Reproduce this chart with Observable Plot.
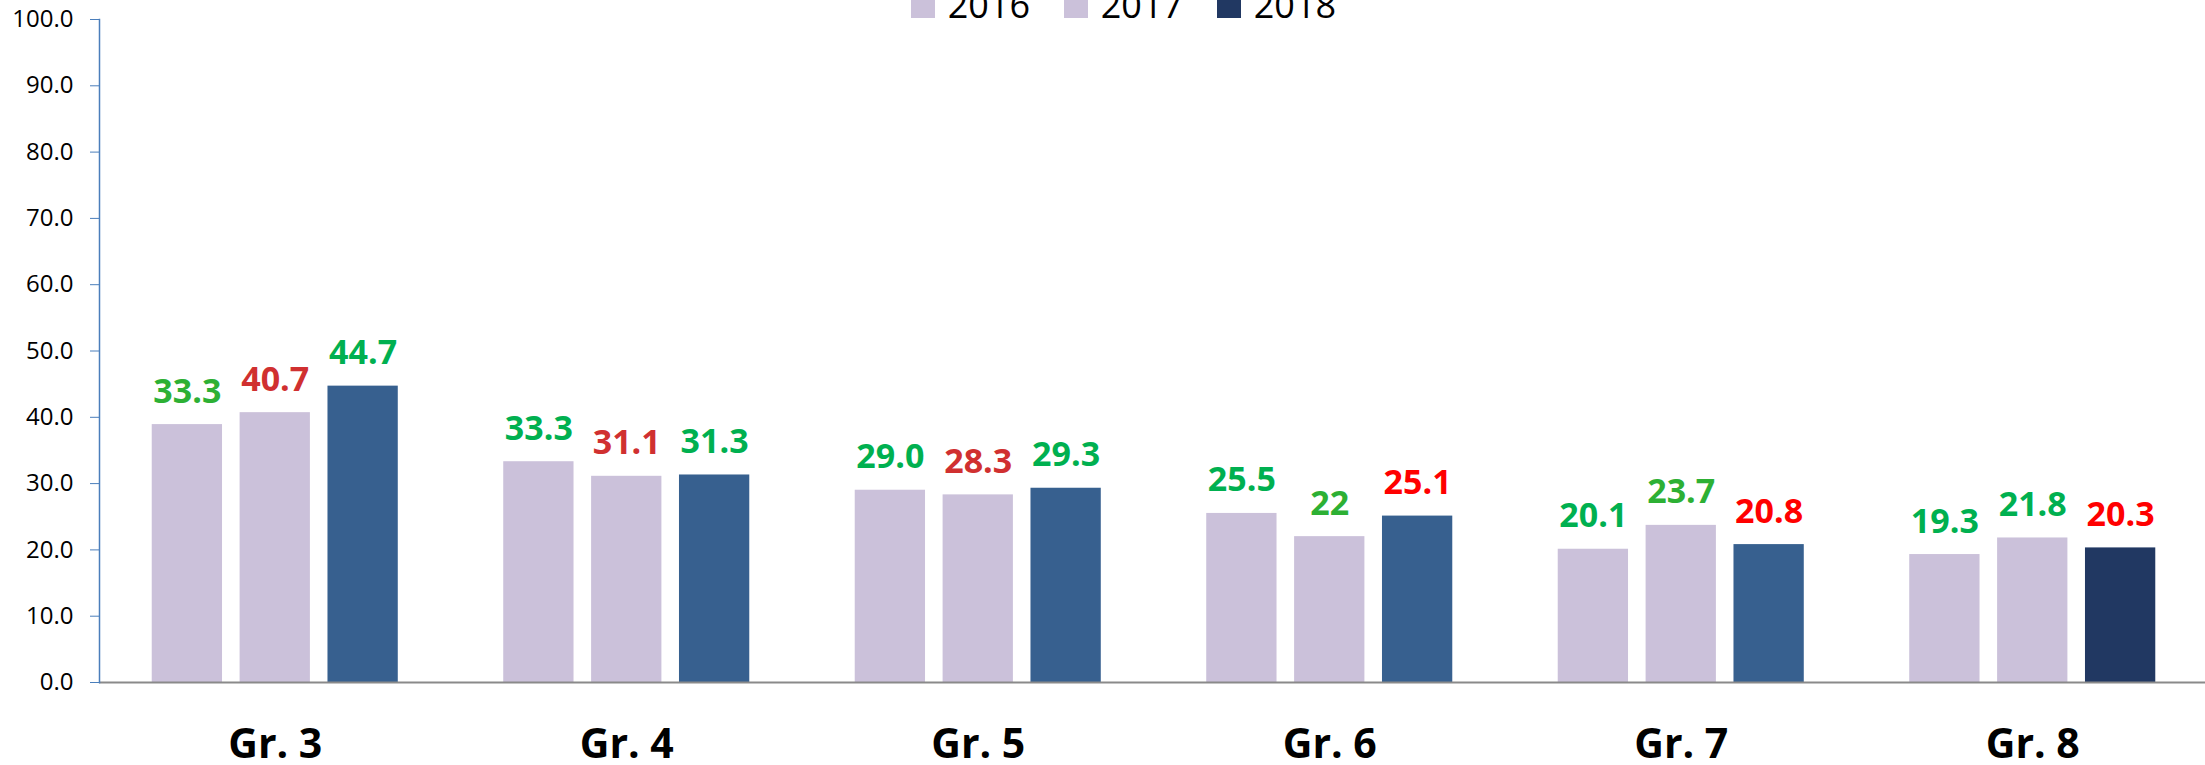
<!DOCTYPE html>
<html>
<head>
<meta charset="utf-8">
<script src="https://cdn.jsdelivr.net/npm/d3@7"></script>
<script src="https://cdn.jsdelivr.net/npm/@observablehq/plot@0.6"></script>
<style>
  html, body { margin: 0; padding: 0; background: #fff; overflow: hidden; }
  #wrap { position: relative; width: 2205px; height: 765px; }
  #legend { position: absolute; left: 911px; top: -13px; font-family: "Open Sans", sans-serif; font-size: 36px; line-height: 36px; white-space: nowrap; color: #000; z-index: 2; }
  #legend .item { display: inline-block; margin-right: 34px; }
  #legend .sw { display: inline-block; width: 24px; height: 24px; margin-right: 12.7px; vertical-align: baseline; }
</style>
</head>
<body>
<div id="wrap"><div id="legend"></div></div>
<script>
const grades = ["Gr. 3", "Gr. 4", "Gr. 5", "Gr. 6", "Gr. 7", "Gr. 8"];
const years = ["2016", "2017", "2018"];
const values2016 = [38.9, 33.3, 29.0, 25.5, 20.1, 19.3];
const values2017 = [40.7, 31.1, 28.3, 22.0, 23.7, 21.8];
const values2018 = [44.7, 31.3, 29.3, 25.1, 20.8, 20.3];
const labels2016 = ["33.3", "33.3", "29.0", "25.5", "20.1", "19.3"];
const labels2017 = ["40.7", "31.1", "28.3", "22", "23.7", "21.8"];
const labels2018 = ["44.7", "31.3", "29.3", "25.1", "20.8", "20.3"];
const tones2016 = ["up2", "up", "up", "up", "up", "up"];
const tones2017 = ["down", "down", "down", "up2", "up2", "up"];
const tones2018 = ["up", "up", "up", "down2", "down2", "down2"];
const yTicks = [0, 10, 20, 30, 40, 50, 60, 70, 80, 90, 100];

const toneColor = {up: "#00B050", up2: "#2DB034", down: "#D03030", down2: "#FF0000"};
const lavender = "#CBC1DA", steel = "#37608F", navy = "#213862";

const valuesByYear = [values2016, values2017, values2018];
const labelsByYear = [labels2016, labels2017, labels2018];
const tonesByYear = [tones2016, tones2017, tones2018];

const data = [];
grades.forEach((g, gi) => {
  years.forEach((yr, yi) => {
    data.push({
      grade: g, year: yr, key: g + "|" + yr,
      value: valuesByYear[yi][gi],
      label: labelsByYear[yi][gi],
      tone: tonesByYear[yi][gi],
      fill: yr === "2018" ? (gi === grades.length - 1 ? navy : steel) : lavender
    });
  });
});

// band domain: three bar slots per grade, one empty slot between grades
const xDomain = [];
grades.forEach((g, gi) => {
  years.forEach(yr => xDomain.push(g + "|" + yr));
  if (gi < grades.length - 1) xDomain.push(g + "|gap");
});
const midKeys = grades.map(g => g + "|" + years[1]);

const chart = Plot.plot({
  width: 2205,
  height: 765,
  marginLeft: 99,
  marginRight: -3,
  marginTop: 19,
  marginBottom: 83,
  style: {fontFamily: "Open Sans, sans-serif", background: "transparent", overflow: "visible"},
  x: {domain: xDomain, paddingInner: 0.2, paddingOuter: 0.6, round: false, axis: null},
  y: {domain: [0, 100], axis: null},
  color: {type: "identity"},
  marks: [
    Plot.barY(data, {x: "key", y: "value", fill: "fill"}),
    Plot.ruleY([0], {stroke: "#8A8A8A", strokeWidth: 2}),
    Plot.frame({anchor: "left", stroke: "#4A7EBB", strokeWidth: 1.5}),
    Plot.axisY({ticks: yTicks, tickFormat: d => d.toFixed(1), tickSize: 9, tickPadding: 17,
      stroke: "#4A7EBB", fill: "#000", fontSize: 24, label: null}),
    Plot.axisX({ticks: midKeys, tickFormat: k => k.split("|")[0], tickSize: 0, tickPadding: 46,
      fill: "#000", fontSize: 41, fontWeight: "bold", label: null}),
    Plot.text(data, {x: "key", y: "value", text: "label", fill: d => toneColor[d.tone],
      lineAnchor: "bottom", dy: -22, fontSize: 34, fontWeight: "bold"})
  ]
});
document.getElementById("wrap").appendChild(chart);

const legendColors = {"2016": lavender, "2017": lavender, "2018": navy};
const legend = document.getElementById("legend");
years.forEach(yr => {
  const item = document.createElement("span");
  item.className = "item";
  const sw = document.createElement("span");
  sw.className = "sw";
  sw.style.background = legendColors[yr];
  item.appendChild(sw);
  item.appendChild(document.createTextNode(yr));
  legend.appendChild(item);
});
</script>
</body>
</html>
